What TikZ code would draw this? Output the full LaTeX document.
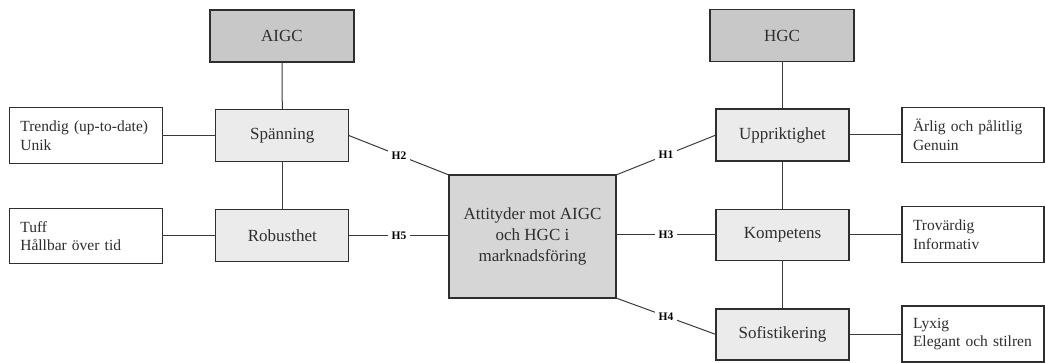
\documentclass[tikz,border=0pt]{standalone}
\usepackage{fontspec}
\setmainfont{Liberation Serif}
\definecolor{topfill}{HTML}{C8C8C8}
\definecolor{dimfill}{HTML}{EBEBEB}
\definecolor{midfill}{HTML}{D6D6D6}
\definecolor{ink}{HTML}{2E2E2E}
\definecolor{linec}{HTML}{3A3A3A}
\tikzset{
  box/.style={draw=ink, line width=1.1pt, inner sep=0pt, outer sep=0pt, text=ink,
    font=\fontsize{17}{21}\selectfont, align=center},
  topbox/.style={box, fill=topfill, minimum width=144pt, minimum height=52pt},
  dimbox/.style={box, fill=dimfill, minimum width=133pt, minimum height=52pt},
  midbox/.style={box, fill=midfill, minimum width=167pt, minimum height=123pt},
  attrbox/.style={draw=ink, line width=1.1pt, fill=white, outer sep=0pt, inner xsep=11pt, inner ysep=0pt,
    text=ink, font=\fontsize{15.5}{18.7}\selectfont, align=left, minimum height=55.5pt},
  conn/.style={draw=linec, line width=1pt},
  hlab/.style={fill=white, inner sep=4pt, text=black, font=\fontsize{11.5}{12}\selectfont\bfseries}
}
\begin{document}
\begin{tikzpicture}[x=1pt,y=-1pt]
\useasboundingbox[fill=white] (0,0) rectangle (1045,363);
% AIGC side
\node[topbox] (aigc) at (282,36) {AIGC};
\node[dimbox] (span) at (282.3,135.5) {Spänning};
\node[dimbox] (robust) at (282.3,235.5) {Robusthet};
\node[attrbox, text width=130.7pt] (trend) at (85.7,135.5) {Trendig (up-to-date)\\Unik};
\node[attrbox, text width=130.7pt, minimum height=55.7pt] (tuff) at (85.7,236) {Tuff\\Hållbar över tid};
% centre
\node[midbox] (center) at (532.5,236.5) {Attityder mot AIGC\\och HGC i\\marknadsföring};
% HGC side
\node[topbox] (hgc) at (782,35.5) {HGC};
\node[dimbox] (upp) at (782.5,135) {Uppriktighet};
\node[dimbox, minimum height=51pt] (komp) at (782.5,235) {Kompetens};
\node[dimbox, minimum height=51pt] (sofi) at (782.5,334.5) {Sofistikering};
\node[attrbox, text width=120pt, minimum height=55pt] (arlig) at (973,135) {Ärlig och pålitlig\\Genuin};
\node[attrbox, text width=120pt, minimum height=56pt] (trov) at (973,234.7) {Trovärdig\\Informativ};
\node[attrbox, text width=120pt, minimum height=56pt] (lyx) at (973,334) {Lyxig\\Elegant och stilren};
% vertical connectors
\draw[conn] (aigc.south) -- (span.north);
\draw[conn] (span.south) -- (robust.north);
\draw[conn] (hgc.south -| upp.north) -- (upp.north);
\draw[conn] (upp.south) -- (komp.north);
\draw[conn] (komp.south) -- (sofi.north);
% attribute connectors
\draw[conn] (trend.east) -- (trend.east -| span.west);
\draw[conn] (robust.west -| tuff.east) -- (robust.west);
\draw[conn] (upp.east) -- (upp.east -| arlig.west);
\draw[conn] (komp.east) -- (komp.east -| trov.west);
\draw[conn] (sofi.east) -- (sofi.east -| lyx.west);
% hypotheses
\draw[conn] (span.east) -- node[hlab] {H2} (center.north west);
\draw[conn] (robust.east) -- node[hlab] {H5} (robust.east -| center.west);
\draw[conn] (center.north east) -- node[hlab] {H1} (upp.west);
\draw[conn] (komp.west -| center.east) -- node[hlab] {H3} (komp.west);
\draw[conn] (center.south east) -- node[hlab] {H4} (sofi.west);
\end{tikzpicture}
\end{document}
